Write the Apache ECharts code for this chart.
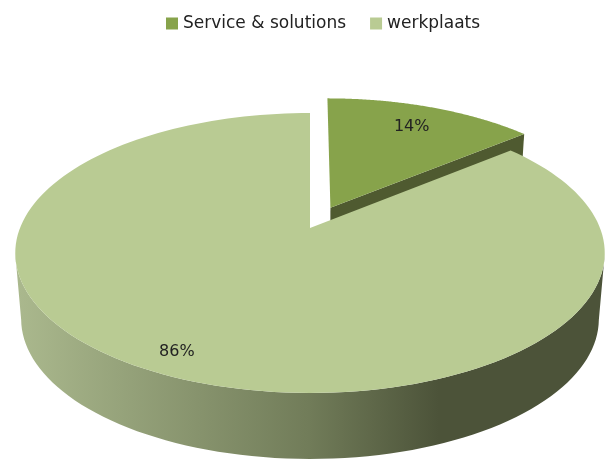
<!DOCTYPE html>
<html>
<head>
<meta charset="utf-8">
<title>Service & solutions / werkplaats</title>
<script src="https://cdn.jsdelivr.net/npm/echarts@6/dist/echarts.min.js"></script>
<style>
  html, body { margin: 0; padding: 0; background: #fff; }
  #chart { width: 609px; height: 459px; }
</style>
</head>
<body>
<div id="chart"></div>
<script>
// data
const categories = ['Service & solutions', 'werkplaats']
const shares = [14, 86]
const sliceColors = ['#87a34b', '#b9cb93']
const wallColor = '#4f5a30'

const FONT = 'DejaVu Sans'
const total = shares[0] + shares[1]

// the pie is a tilted disc, so a unit circle is put through a perspective map
const apexX = 310
const apexY = 228
const radiusX = 290
const radiusY = 135.5
const persp = 0.1786
const depth = 66 // height of the wall
const depthScale = 0.98 // lower rim is a bit narrower
const explode = 0.17 // how far the first slice is pulled out

function project (u, v, lower) {
  const d = 1 - persp * v
  let x = radiusX * u / d
  let y = radiusY * v / d
  if (lower) {
    x *= depthScale
    y += depth
  }
  return [apexX + x, apexY + y]
}

// angle is clockwise from the top, as a fraction of the circle
function rimPoint (frac, off, lower) {
  const a = frac * Math.PI * 2
  return project(off[0] + Math.sin(a), off[1] - Math.cos(a), lower)
}

function rim (from, to, off, lower) {
  const pts = []
  const steps = 160
  for (let i = 0; i <= steps; i++) {
    pts.push(rimPoint(from + (to - from) * i / steps, off, lower))
  }
  return pts
}

function polygon (points, fill) {
  return { type: 'polygon', shape: { points }, style: { fill }, silent: true }
}

function labelAt (frac, off, r, text) {
  const a = frac * Math.PI * 2
  const p = project(off[0] + r * Math.sin(a), off[1] - r * Math.cos(a), false)
  return {
    type: 'text',
    silent: true,
    style: {
      text,
      x: p[0],
      y: p[1],
      align: 'center',
      verticalAlign: 'middle',
      fill: '#222',
      font: '16px "' + FONT + '"'
    }
  }
}

// 第一块：拉出来的小扇形
function renderFirst () {
  const end = shares[0] / total
  const mid = end / 2
  const off = [explode * Math.sin(mid * Math.PI * 2), -explode * Math.cos(mid * Math.PI * 2)]
  const apex = project(off[0], off[1], false)
  const apexLow = project(off[0], off[1], true)
  const corner = rimPoint(end, off, false)
  const cornerLow = rimPoint(end, off, true)
  return {
    type: 'group',
    children: [
      polygon([apex, corner, cornerLow, apexLow], wallColor),
      polygon([apex].concat(rim(0, end, off, false)), sliceColors[0]),
      labelAt(mid, off, 0.78, shares[0] + '%')
    ]
  }
}

// 第二块：大扇形，带渐变的侧面
function renderSecond () {
  const start = shares[0] / total
  const off = [0, 0]
  const apex = project(0, 0, false)
  const top = rim(start, 1, off, false)
  const low = rim(start, 1, off, true)

  // only the front of the wall shows: from the widest point right to the widest point left
  let right = 0
  let left = 0
  top.forEach((p, i) => {
    if (p[0] > top[right][0]) right = i
    if (p[0] < top[left][0]) left = i
  })
  const wall = top.slice(right, left + 1).concat(low.slice(right, left + 1).reverse())

  const wallFill = new echarts.graphic.LinearGradient(14, 0, 604, 0, [
    { offset: 0, color: '#abb98e' },
    { offset: 0.5, color: '#717c59' },
    { offset: 0.72, color: '#4c5339' },
    { offset: 1, color: '#4c5339' }
  ], true)
  return {
    type: 'group',
    children: [
      polygon(wall, wallFill),
      polygon([apex].concat(top), sliceColors[1]),
      // label sits a little past the middle of the slice
      labelAt(start + shares[1] / total / 2 + 0.004, off, 0.88, shares[1] + '%')
    ]
  }
}

const chart = echarts.init(document.getElementById('chart'))
chart.setOption({
  animation: false,
  backgroundColor: '#fff',
  legend: {
    left: 161,
    top: 10,
    icon: 'rect',
    itemWidth: 12,
    itemHeight: 12,
    itemGap: 24,
    selectedMode: false,
    data: categories,
    textStyle: { fontFamily: FONT, fontSize: 17, color: '#222' }
  },
  series: [
    {
      type: 'custom',
      name: categories[0],
      coordinateSystem: 'none',
      itemStyle: { color: sliceColors[0] },
      data: [shares[0]],
      renderItem: renderFirst
    },
    {
      type: 'custom',
      name: categories[1],
      coordinateSystem: 'none',
      itemStyle: { color: sliceColors[1] },
      data: [shares[1]],
      renderItem: renderSecond
    }
  ]
})
</script>
</body>
</html>
